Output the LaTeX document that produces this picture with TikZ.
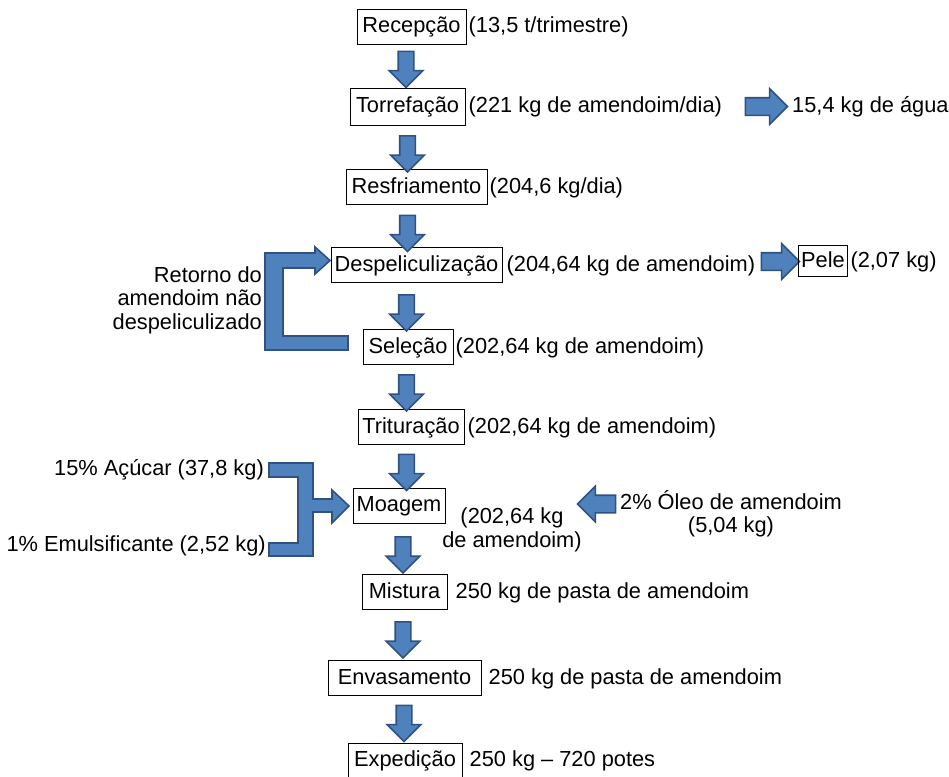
\documentclass[tikz,border=0pt]{standalone}
\usepackage{fontspec}
\setmainfont{Liberation Sans}
\usetikzlibrary{shapes.arrows}
\definecolor{blkfill}{HTML}{4F81BD}
\definecolor{blkline}{HTML}{2F5283}

\begin{document}
\begin{tikzpicture}[x=1pt,y=-1pt,font=\fontsize{21.8}{23.5}\selectfont,
  stepbox/.style={draw,line width=1pt,inner xsep=3pt,minimum height=35pt,text height=16pt,text depth=4pt},
  lbl/.style={inner sep=0pt,anchor=base west},
  blk/.style={single arrow,draw=blkline,fill=blkfill,line width=1.6pt,inner sep=0pt,inner ysep=7pt,single arrow head extend=9pt,minimum height=36pt,minimum width=0pt},
  downblk/.style={blk,rotate=-90},
  blkshape/.style={draw=blkline,fill=blkfill,line width=1.6pt,line join=miter}]
  \useasboundingbox (0,0) rectangle (949,776);

  % process steps
  \node[stepbox,minimum width=109pt] (rec) at (411.5,27) {Recepção};
  \node[stepbox,minimum width=115pt,minimum height=37pt] (tor) at (407.5,106.5) {Torrefação};
  \node[stepbox,minimum width=141pt] (res) at (416.5,187) {Resfriamento};
  \node[stepbox,minimum width=171pt] (desp) at (416.5,265) {Despeliculização};
  \node[stepbox,minimum width=90pt] (sel) at (408,347) {Seleção};
  \node[stepbox,minimum width=106pt] (trit) at (411,427) {Trituração};
  \node[stepbox,minimum width=92pt] (moa) at (399,505.5) {Moagem};
  \node[stepbox,minimum width=85pt] (mis) at (404.5,592) {Mistura};
  \node[stepbox,minimum width=153pt] (env) at (404.5,678) {Envasamento};
  \node[stepbox,minimum width=114pt] (exp) at (405,760.5) {Expedição};

  % quantities
  \node[lbl] (recl) at ([xshift=2pt]rec.base east) {(13,5 t/trimestre)};
  \node[lbl] (torl) at ([xshift=3pt]tor.base east) {(221 kg de amendoim/dia)};
  \node[lbl] (resl) at ([xshift=2pt]res.base east) {(204,6 kg/dia)};
  \node[lbl] (despl) at ([xshift=4pt]desp.base east) {(204,64 kg de amendoim)};
  \node[lbl] (sell) at ([xshift=2pt]sel.base east) {(202,64 kg de amendoim)};
  \node[lbl] (tritl) at ([xshift=3pt]trit.base east) {(202,64 kg de amendoim)};
  \node[align=center,inner sep=0pt] (moal) at (512,530) {(202,64 kg\\de amendoim)};
  \node[lbl] (misl) at ([xshift=8pt]mis.base east) {250 kg de pasta de amendoim};
  \node[lbl] (envl) at ([xshift=7pt]env.base east) {250 kg de pasta de amendoim};
  \node[lbl] (expl) at ([xshift=7pt]exp.base east) {250 kg -- 720 potes};

  % main flow
  \node[downblk] (a1) at (406,65.5) {};
  \node[downblk] (a2) at (407.5,150) {};
  \node[downblk] (a3) at (407.5,229.5) {};
  \node[downblk] (a4) at (406.5,309) {};
  \node[downblk] (a5) at (406.5,389) {};
  \node[downblk] (a6) at (406.5,468.5) {};
  \node[downblk] (a7) at (403,551) {};
  \node[downblk] (a8) at (403,636) {};
  \node[downblk] (a9) at (404,719.5) {};

  % outputs
  \node[blk,inner ysep=8pt,minimum height=42pt] (aagua) at (762,106.5) {};
  \node[lbl] (agua) at (792,0 |- tor.base) {15,4 kg de água};
  \node[blk,inner ysep=8pt,minimum height=38pt] (apele) at (776,261.5) {};
  \node[stepbox,minimum width=48pt,minimum height=31pt] (pele) at (823,261) {Pele};
  \node[lbl] (pelel) at ([xshift=2pt]pele.base east) {(2,07 kg)};

  % return loop
  \node[align=right,anchor=east,inner sep=0pt] (ret) at (262,300) {Retorno do\\amendoim não\\despeliculizado};
  \filldraw[blkshape] (348,336) -- (283,336) -- (283,268) -- (315,268) -- (315,274) -- (330,260.5)
    -- (315,247) -- (315,253) -- (265,253) -- (265,350) -- (348,350) -- cycle;

  % inputs to grinding
  \node[anchor=east,inner sep=0pt] (acucar) at (264,470) {15\% Açúcar (37,8 kg)};
  \node[anchor=east,inner sep=0pt] (emuls) at (266,546) {1\% Emulsificante (2,52 kg)};
  \filldraw[blkshape] (269,463) -- (313,463) -- (313,499) -- (332,499) -- (332,490) -- (349,506)
    -- (332,523) -- (332,512) -- (313,512) -- (313,556) -- (269,556) -- (269,543) -- (298,543)
    -- (298,477) -- (269,477) -- cycle;
  \node[blk,rotate=180,inner ysep=8pt,minimum height=38pt] (aoleo) at (601,504) {};
  \node[align=center,inner sep=0pt] (oleo) at (731,514) {2\% Óleo de amendoim\\(5,04 kg)};
\end{tikzpicture}
\end{document}
